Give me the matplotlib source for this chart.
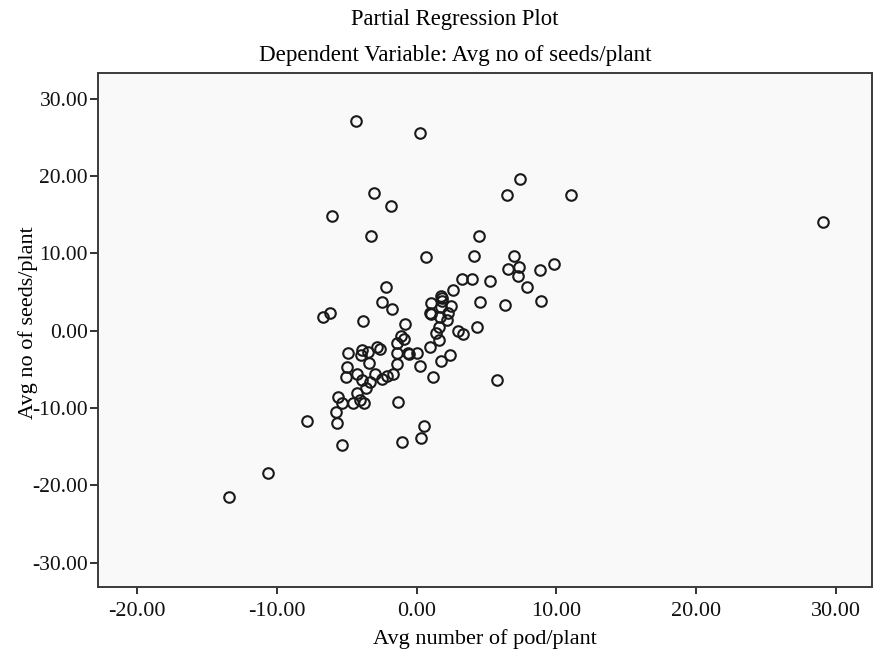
import matplotlib
matplotlib.use("Agg")
import matplotlib.pyplot as plt

# partial regression residuals
pods = [-4.31, 0.24, 7.42, 6.44, 11.04, -3.05, -1.81, -6.03, 29.05, -3.26,
        4.49, 0.69, 4.12, 6.99, 6.52, 7.35, 7.27, 8.83, 9.85, -2.21,
        3.27, 3.98, 5.25, 2.62, 7.92, -2.50, -1.74, 1.72, 1.80, 1.84,
        1.05, 4.55, 6.32, 8.92, 2.46, 1.77, 0.94, 1.02, 2.27, 2.15,
        1.65, -6.67, -6.19, -3.81, -0.85, 4.34, 1.62, 2.93, 3.30, 1.35,
        1.62, -1.15, -0.92, -1.42, 0.94, -4.89, -3.93, -4.00, -3.45, -2.81,
        -2.65, -1.42, -0.62, -0.54, 0.01, 2.39, -3.43, -5.00, -1.42, 0.26,
        1.75, -5.07, -4.28, -3.93, -3.33, -2.98, -2.50, -2.14, -1.67, 1.15,
        -3.62, -4.28, -5.64, -5.36, -4.53, -4.05, -3.76, -1.31, -5.77, -5.72,
        -7.86, 0.55, 0.28, -1.08, -5.36, -10.61, -13.42, 5.75]
seeds = [27.13, 25.54, 19.62, 17.56, 17.56, 17.77, 16.13, 14.84, 14.10, 12.19,
         12.25, 9.53, 9.62, 9.66, 7.94, 8.28, 7.08, 7.85, 8.63, 5.69,
         6.69, 6.65, 6.47, 5.27, 5.61, 3.75, 2.81, 4.49, 4.23, 3.88,
         3.62, 3.75, 3.32, 3.80, 3.20, 3.03, 2.35, 2.19, 2.25, 1.38,
         1.73, 1.73, 2.25, 1.25, 0.87, 0.52, 0.52, 0.00, -0.43, -0.26,
         -1.16, -0.72, -1.10, -1.63, -2.15, -2.85, -2.50, -3.14, -2.72, -2.07,
         -2.37, -2.92, -2.88, -3.01, -2.92, -3.14, -4.14, -4.66, -4.35, -4.57,
         -3.92, -5.95, -5.60, -6.38, -6.60, -5.60, -6.29, -5.86, -5.60, -5.99,
         -7.45, -8.10, -8.54, -9.39, -9.39, -8.96, -9.31, -9.22, -10.58, -11.94,
         -11.64, -12.33, -13.84, -14.40, -14.79, -18.37, -21.47, -6.44]

xticks = [-20, -10, 0, 10, 20, 30]
yticks = [-30, -20, -10, 0, 10, 20, 30]

plt.rcParams['font.family'] = ['Liberation Serif', 'DejaVu Serif']

fig = plt.figure(figsize=(8.75, 6.54), dpi=100)
ax = fig.add_axes([0.1117, 0.1029, 0.885, 0.7855])
ax.set_facecolor('#f9f9f9')

ax.plot(pods, seeds, linestyle='none', marker='o', markersize=7.6,
        markerfacecolor='none', markeredgecolor='#1a1a1a', markeredgewidth=1.5)

ax.set_xlim(-22.81, 32.58)
ax.set_ylim(-33.12, 33.34)
ax.set_xticks(xticks)
ax.set_yticks(yticks)
ax.set_xticklabels(['%.2f' % t for t in xticks])
ax.set_yticklabels(['%.2f' % t for t in yticks])
ax.tick_params(axis='x', length=5, width=1.2, pad=6, labelsize=16, colors='#111111')
ax.tick_params(axis='y', length=6, width=1.2, pad=1, labelsize=15.5, colors='#111111')

for s in ax.spines.values():
    s.set_color('#3a3a3a')
    s.set_linewidth(1.4)

ax.set_xlabel('Avg number of pod/plant', fontsize=16, labelpad=5.5)
ax.set_ylabel('Avg no of seeds/plant', fontsize=16)
ax.yaxis.set_label_coords(-0.077, 0.515)

fig.text(0.52, 1 - 19 / 654, 'Partial Regression Plot', ha='center', va='center', fontsize=16.3)
fig.text(0.52, 1 - 56 / 654, 'Dependent Variable: Avg no of seeds/plant',
         ha='center', va='center', fontsize=16.6)

fig.savefig('out.png', dpi=100)
